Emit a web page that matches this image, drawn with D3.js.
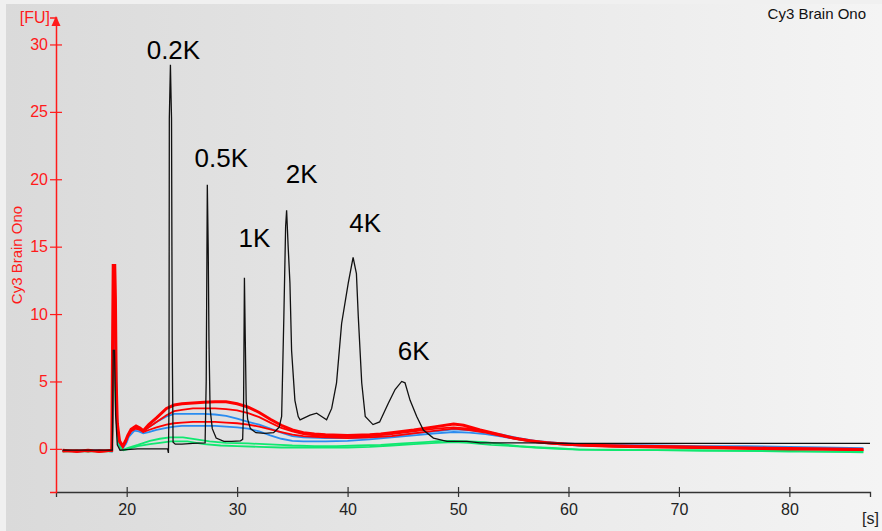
<!DOCTYPE html>
<html>
<head>
<meta charset="utf-8">
<script src="https://cdn.jsdelivr.net/npm/d3@7"></script>
<style>
  html, body { margin: 0; padding: 0; background: #f0f0f0; }
  svg { display: block; }
  text { font-family: "Liberation Sans", Arial, sans-serif; }
</style>
</head>
<body>
<svg id="chart" width="882" height="531"></svg>
<script>
// Electropherogram: migration time [s] vs fluorescence [FU]
const xTicks = [20, 30, 40, 50, 60, 70, 80];
const yTicks = [0, 5, 10, 15, 20, 25, 30];

// Size ladder trace, [time s, FU]
const ladder = [[14.2,-0.1],[16,-0.1],[18,-0.1],[18.7,-0.1],[18.78,7.3],[18.9,7.3],[19.0,2.5],[19.15,0.3],[19.4,-0.1],[20,-0.05],[21,0.0],[22,0.0],[23,0.0],[23.7,0.0],[23.78,-0.3],[23.83,3],[23.86,24.5],[23.96,28.5],[24.02,26],[24.06,24.5],[24.12,8],[24.2,0.5],[24.4,0.35],[25,0.35],[26,0.4],[27.1,0.45],[27.2,5],[27.3,19.6],[27.38,15],[27.45,8],[27.55,3],[27.75,1.5],[28.1,0.8],[28.8,0.55],[29.5,0.55],[30.3,0.6],[30.5,0.7],[30.58,3],[30.66,12.7],[30.74,8],[30.82,3.5],[30.95,2.2],[31.2,1.5],[31.7,1.2],[32.5,1.15],[33.3,1.2],[33.8,1.6],[34.03,2.4],[34.23,9.8],[34.39,16.5],[34.48,17.7],[34.62,15],[34.78,12.3],[34.93,7.3],[35.23,3.6],[35.53,2.4],[35.7,2.15],[36.6,2.5],[37.2,2.65],[37.65,2.4],[38.1,2.15],[38.56,3.0],[39.0,4.9],[39.46,9.3],[40.06,12.3],[40.5,14.2],[40.8,13.0],[40.97,9.8],[41.28,4.9],[41.6,2.4],[42.3,1.8],[42.9,2.0],[43.7,3.4],[44.3,4.4],[44.9,5.0],[45.2,4.9],[45.66,3.6],[46.26,2.4],[46.86,1.4],[47.77,0.8],[49,0.55],[50.8,0.55],[52,0.45],[56.5,0.45],[60,0.4],[65,0.4],[70,0.4],[75,0.4],[80,0.4],[87.3,0.4]];

// Sample traces
const red1 = [[14.2,-0.1],[15.5,-0.2],[16.5,-0.1],[17.5,-0.2],[18.65,-0.1],[18.72,7.5],[18.78,13.6],[18.92,13.6],[18.98,11.2],[19.05,5],[19.15,1.9],[19.35,0.6],[19.65,0.2],[19.9,0.6],[20.1,1.0],[20.4,1.45],[20.85,1.7],[21.2,1.55],[21.5,1.35],[22.0,1.8],[22.7,2.3],[23.6,3.0],[24.3,3.25],[25,3.35],[26,3.4],[27,3.45],[28,3.5],[29,3.5],[30,3.35],[31,3.1],[32,2.7],[33,2.2],[34,1.75],[35,1.4],[36,1.2],[37,1.1],[38,1.05],[40,1.0],[42,1.05],[43,1.1],[44,1.2],[46,1.4],[48,1.65],[49.6,1.85],[50.5,1.75],[52,1.4],[53.5,1.1],[55,0.8],[56.5,0.6],[58,0.45],[60,0.35],[63,0.25],[66,0.2],[70,0.15],[74,0.1],[78,0.05],[82,0.0],[86.7,-0.05]];
const red2 = [[14.2,-0.15],[15.5,-0.1],[16.5,-0.2],[17.5,-0.1],[18.65,-0.15],[18.72,6],[18.8,11.5],[18.95,11.5],[19.05,4.5],[19.15,1.8],[19.35,0.5],[19.65,0.15],[19.9,0.5],[20.1,0.95],[20.4,1.4],[20.8,1.6],[21.2,1.5],[21.5,1.3],[22,1.6],[22.7,2.0],[23.6,2.5],[24.3,2.8],[25,2.9],[26,3.0],[27,3.0],[28,3.0],[29,2.95],[30,2.85],[31,2.65],[32,2.35],[33,1.95],[34,1.55],[35,1.3],[36,1.1],[37,1.0],[38,0.95],[40,0.9],[42,0.95],[44,1.1],[46,1.3],[48,1.5],[49.6,1.6],[51,1.5],[52.5,1.3],[54,1.0],[55.5,0.75],[57,0.55],[59,0.4],[61,0.3],[64,0.2],[68,0.15],[72,0.1],[76,0.05],[80,0.0],[83,0.0],[86.7,-0.1]];
const red3 = [[14.2,-0.2],[15.5,-0.15],[16.5,-0.1],[17.5,-0.2],[18.65,-0.15],[18.75,6],[18.82,10.2],[18.95,10.2],[19.05,4],[19.15,1.6],[19.35,0.5],[19.65,0.2],[19.9,0.5],[20.1,0.9],[20.4,1.3],[20.8,1.5],[21.2,1.4],[21.5,1.25],[22,1.4],[22.7,1.6],[23.6,1.8],[24.3,1.9],[25,1.95],[26,2.0],[27,2.0],[28,2.0],[29,1.95],[30,1.9],[31,1.8],[32,1.65],[33,1.45],[34,1.25],[35,1.05],[36,0.95],[37,0.9],[38,0.85],[40,0.8],[42,0.85],[44,0.95],[46,1.15],[48,1.35],[49.6,1.5],[51,1.4],[52.5,1.2],[54,0.95],[55.5,0.7],[57,0.5],[59,0.35],[61,0.25],[64,0.15],[68,0.1],[72,0.05],[76,0.0],[80,-0.05],[83,-0.05],[86.7,-0.1]];
const blue1 = [[14.2,-0.15],[15.5,-0.15],[16.5,-0.1],[17.5,-0.15],[18.65,-0.15],[18.78,5],[18.85,9.7],[19.0,9.7],[19.08,4],[19.18,1.4],[19.4,0.4],[19.7,0.15],[19.95,0.5],[20.2,1.1],[20.7,1.55],[21.1,1.45],[21.5,1.3],[22,1.6],[22.7,2.0],[23.6,2.4],[24.3,2.6],[25,2.6],[26,2.6],[27,2.6],[28,2.55],[29,2.45],[30,2.25],[31,2.0],[32,1.8],[33,1.5],[34,1.2],[35,0.95],[36,0.85],[38,0.8],[40,0.8],[42,0.85],[44,0.95],[46,1.15],[48,1.3],[49.6,1.45],[51,1.4],[52.5,1.25],[54,1.05],[55.5,0.8],[57,0.6],[59,0.45],[61,0.35],[64,0.3],[68,0.25],[72,0.2],[76,0.2],[80,0.15],[83,0.1],[86.7,0.05]];
const blue2 = [[14.2,-0.1],[15.5,-0.2],[16.5,-0.15],[17.5,-0.1],[18.65,-0.2],[18.78,4.5],[18.86,8.5],[19.0,8.5],[19.08,3.5],[19.18,1.2],[19.4,0.3],[19.7,0.1],[19.95,0.4],[20.2,0.9],[20.7,1.35],[21.1,1.3],[21.5,1.15],[22,1.25],[22.7,1.4],[23.6,1.55],[24.3,1.65],[25,1.7],[26,1.7],[27,1.7],[28,1.7],[29,1.65],[30,1.6],[31,1.5],[32,1.3],[33,1.0],[34,0.75],[35,0.6],[36,0.55],[38,0.55],[40,0.6],[42,0.7],[44,0.85],[46,1.0],[48,1.15],[49.6,1.25],[51,1.2],[52.5,1.1],[54,0.9],[55.5,0.7],[57,0.5],[59,0.35],[61,0.25],[64,0.2],[68,0.15],[72,0.1],[76,0.1],[80,0.05],[83,0.05],[86.7,0.0]];
const green1 = [[14.2,-0.15],[15.5,-0.2],[16.5,-0.15],[17.5,-0.2],[18.65,-0.15],[18.8,5],[18.88,10.5],[19.0,10.5],[19.08,3],[19.2,0.8],[19.45,0.1],[19.7,-0.05],[20.2,0.1],[21,0.3],[22.1,0.6],[23,0.75],[23.9,0.85],[25.1,0.85],[26.3,0.7],[27.5,0.55],[29,0.45],[31,0.4],[33.9,0.3],[35,0.25],[37,0.2],[39,0.2],[41,0.25],[43,0.3],[45,0.4],[47,0.5],[48.5,0.6],[49.6,0.6],[51,0.55],[52.5,0.5],[54,0.35],[55.5,0.2],[57,0.12],[59,0.05],[61,-0.05],[64,-0.05],[68,-0.1],[72,-0.1],[76,-0.15],[80,-0.15],[83,-0.2],[86.7,-0.2]];
const green2 = [[14.2,-0.2],[15.5,-0.15],[16.5,-0.2],[17.5,-0.15],[18.65,-0.2],[18.82,4],[18.9,8],[19.0,8],[19.08,2.5],[19.2,0.5],[19.45,0.0],[19.7,-0.1],[20.2,0.0],[21,0.2],[22.1,0.35],[23,0.45],[24,0.55],[25.5,0.55],[27,0.35],[28.5,0.25],[30,0.2],[32,0.15],[34,0.1],[36,0.1],[38,0.1],[40,0.1],[42,0.15],[44,0.25],[46,0.35],[48,0.45],[49.6,0.5],[51,0.45],[53,0.3],[55,0.2],[57,0.1],[59,0.0],[61,-0.05],[64,-0.1],[68,-0.1],[72,-0.15],[76,-0.15],[80,-0.2],[83,-0.2],[86.7,-0.25]];

// Ladder fragment sizes, at their peak (time, FU)
const peakNames = ["0.2K", "0.5K", "1K", "2K", "4K", "6K"];
const peakTimes = [23.96, 27.3, 30.66, 34.48, 40.5, 44.9];
const peakValues = [28.5, 19.6, 12.7, 17.7, 14.2, 5.0];

// Label offsets from each peak tip, in px
const labelOffsets = [[3, -6], [14, -18], [10, -31], [15, -27], [12, -25.5], [12, -21.5]];

const svg = d3.select("#chart");
const W = 882, H = 531;

// Panel background with a soft horizontal gradient
const defs = svg.append("defs");
const grad = defs.append("linearGradient").attr("id", "bg").attr("x1", "0").attr("x2", "1").attr("y1", "0").attr("y2", "0");
grad.append("stop").attr("offset", "0%").attr("stop-color", "#dadada");
grad.append("stop").attr("offset", "100%").attr("stop-color", "#f4f4f4");
svg.append("rect").attr("x", 0).attr("y", 0).attr("width", W).attr("height", H).attr("fill", "#f0f0f0");
svg.append("rect").attr("x", 6).attr("y", 4).attr("width", W - 6).attr("height", H - 4).attr("fill", "url(#bg)");

const x = d3.scaleLinear().domain([13.6, 87.3]).range([56, 870]);
const y = d3.scaleLinear().domain([-3.2, 32]).range([492, 17.5]);

const RED = "#ff1a1a";

// X axis
const xAxis = svg.append("g").attr("transform", "translate(0,492)")
  .call(d3.axisBottom(x).tickValues(xTicks).tickFormat(d3.format("d")).tickSize(5).tickPadding(7));
xAxis.select(".domain").attr("stroke", "#333").attr("stroke-width", 1.3);
xAxis.selectAll(".tick line").attr("stroke", "#333").attr("stroke-width", 1.2).attr("y1", -5);
xAxis.selectAll(".tick text").attr("fill", "#222").attr("font-size", 16)
  .attr("font-family", "'Liberation Sans', Arial, sans-serif");

svg.append("text").attr("x", 862).attr("y", 524).attr("text-anchor", "start")
  .attr("font-size", 16).attr("fill", "#222").text("[s]");

// Y axis
const yAxis = svg.append("g").attr("transform", "translate(56,0)")
  .call(d3.axisLeft(y).tickValues(yTicks).tickFormat(d3.format("d")).tickSize(6).tickPadding(2));
yAxis.select(".domain").attr("stroke", RED).attr("stroke-width", 1.5);
yAxis.selectAll(".tick line").attr("stroke", RED).attr("stroke-width", 1.2).attr("x2", 6).attr("x1", -6);
yAxis.selectAll(".tick text").attr("fill", RED).attr("font-size", 16)
  .attr("font-family", "'Liberation Sans', Arial, sans-serif");

svg.append("path").attr("d", "M56,16 L51.5,26 L60.5,26 Z").attr("fill", RED);
svg.append("text").attr("x", 50).attr("y", 23).attr("text-anchor", "end")
  .attr("font-size", 16).attr("fill", RED).text("[FU]");
svg.append("text").attr("transform", "translate(22,255) rotate(-90)").attr("text-anchor", "middle")
  .attr("font-size", 15).attr("fill", RED).text("Cy3 Brain Ono");

svg.append("text").attr("x", 866).attr("y", 19).attr("text-anchor", "end")
  .attr("font-size", 15).attr("fill", "#111").text("Cy3 Brain Ono");

// Traces
const line = d3.line().x(d => x(d[0])).y(d => y(d[1]));
const traces = [
  { data: green2, color: "#10e870", width: 1.8 },
  { data: green1, color: "#10e870", width: 1.8 },
  { data: blue2, color: "#2a8cf0", width: 1.8 },
  { data: blue1, color: "#2a8cf0", width: 1.8 },
  { data: red3, color: "#ff0000", width: 1.8 },
  { data: red2, color: "#ff0000", width: 1.8 },
  { data: red1, color: "#ff0000", width: 3 },
  { data: ladder, color: "#111", width: 1.3 }
];
svg.append("g").selectAll("path").data(traces).join("path")
  .attr("d", d => line(d.data))
  .attr("fill", "none")
  .attr("stroke", d => d.color)
  .attr("stroke-width", d => d.width)
  .attr("stroke-linejoin", "miter");

// Fragment size labels
svg.append("g").selectAll("text").data(peakNames).join("text")
  .attr("x", (d, i) => x(peakTimes[i]) + labelOffsets[i][0])
  .attr("y", (d, i) => y(peakValues[i]) + labelOffsets[i][1])
  .attr("text-anchor", "middle")
  .attr("font-size", 26)
  .attr("fill", "#000")
  .text(d => d);
</script>
</body>
</html>
